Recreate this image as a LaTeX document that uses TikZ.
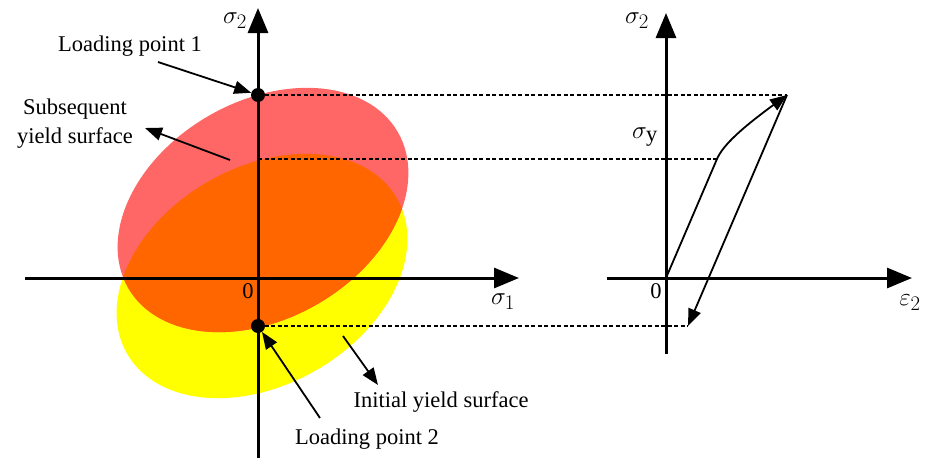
\documentclass[tikz,border=0pt]{standalone}
\usepackage{fontspec}
\setmainfont{Liberation Serif}
\usetikzlibrary{arrows.meta}
\definecolor{subsq}{RGB}{255,102,102}
\definecolor{overl}{RGB}{255,102,0}
\definecolor{initc}{RGB}{255,255,0}
\tikzset{
  axis/.style={line width=3pt,-{Triangle[length=25pt,width=20pt]}},
  pointer/.style={line width=1.8pt,-{Triangle[length=17pt,width=13pt]}},
  guide/.style={line width=1.3pt,dash pattern=on 4pt off 2.5pt},
  txt/.style={font=\fontsize{22.5}{29}\selectfont,inner sep=0pt},
  sym/.style={font=\fontsize{32}{36}\selectfont,inner sep=0pt},
  dot/.style={circle,fill=black,minimum size=14pt,inner sep=0pt}
}
\begin{document}
\begin{tikzpicture}[x=1pt,y=-1pt]
\useasboundingbox (0,0) rectangle (935,458);
% ellipses
\coordinate (cR) at (263,210);
\coordinate (cY) at (262,276);
\fill[initc,rotate around={30:(cY)}] (cY) ellipse (155.7 and 108.7);
\fill[subsq,rotate around={30:(cR)}] (cR) ellipse (155.7 and 108.7);
\begin{scope}
\clip[rotate around={30:(cY)}] (cY) ellipse (155.7 and 108.7);
\fill[overl,rotate around={30:(cR)}] (cR) ellipse (155.7 and 108.7);
\end{scope}
% left axes
\coordinate (vB) at (258,458);
\coordinate (vT) at (258,8);
\coordinate (hL) at (25,278);
\coordinate (hR) at (519,278);
\draw[axis] (vB) -- (vT);
\draw[axis] (hL) -- (hR);
% right axes
\coordinate (rvB) at (666,354);
\coordinate (rvT) at (666,13);
\coordinate (rhL) at (607,278);
\coordinate (rhR) at (912,278);
\draw[axis] (rvB) -- (rvT);
\draw[axis] (rhL) -- (rhR);
% points
\node[dot] (P1) at (258,95) {};
\node[dot] (P2) at (258,326) {};
\coordinate (Y0) at (258,159);
\coordinate (O2) at (666,278);
\coordinate (Ys) at (717,159);
\coordinate (Pk) at (787,95);
\coordinate (Un) at (688,326);
% guides
\draw[guide] (P1.center) -- (Pk);
\draw[guide] (Y0) -- (Ys);
\draw[guide] (P2.center) -- (Un);
% stress-strain path
\draw[pointer] (O2) -- (Ys) .. controls (723,145) and (742,128) .. (Pk);
\draw[pointer] (Pk) -- (Un);
% labels
\node[sym] (s2L) at (235,21) {$\sigma_2$};
\node[sym] (s1) at (503,302) {$\sigma_1$};
\node[txt] (zL) at (248,291) {0};
\node[sym] (s2R) at (637,21) {$\sigma_2$};
\node[sym] (sy) at (645,137) {$\sigma_{\mathrm{y}}$};
\node[txt] (zR) at (656,291) {0};
\node[sym] (e2) at (910,303) {$\varepsilon_2$};
\node[txt] (lp1) at (130,46) {Loading point 1};
\node[txt,align=center] (sub) at (75,124) {Subsequent\\yield surface};
\node[txt] (ini) at (441,402) {Initial yield surface};
\node[txt] (lp2) at (367,439) {Loading point 2};
% pointers
\coordinate (a1s) at (158,62);
\coordinate (a2s) at (230,160);
\coordinate (a2e) at (145,128);
\coordinate (a3s) at (343,336);
\coordinate (a3e) at (378,385);
\coordinate (a4s) at (320,418);
\draw[pointer] (a1s) -- (P1);
\draw[pointer] (a2s) -- (a2e);
\draw[pointer] (a3s) -- (a3e);
\draw[pointer] (a4s) -- (P2);
\end{tikzpicture}
\end{document}
